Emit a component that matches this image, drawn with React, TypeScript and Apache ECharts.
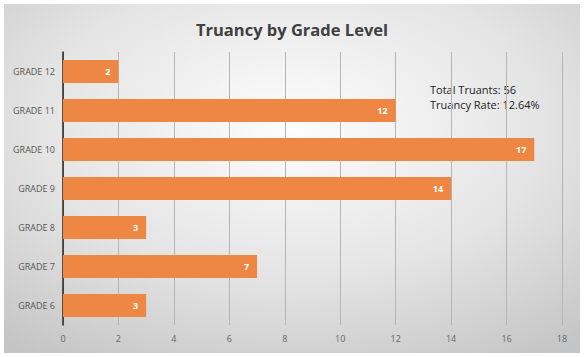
import React, { useEffect, useRef } from "react";
import * as echarts from "echarts";

const categories = ["GRADE 6", "GRADE 7", "GRADE 8", "GRADE 9", "GRADE 10", "GRADE 11", "GRADE 12"];
const truants = [3, 7, 3, 14, 17, 12, 2];
const xTicks = [0, 2, 4, 6, 8, 10, 12, 14, 16, 18];
const titleText = "Truancy by Grade Level";
const noteLines = ["Total Truants: 56", "Truancy Rate: 12.64%"];

export default function App() {
  const ref = useRef<HTMLDivElement>(null);
  useEffect(() => {
    const chart = echarts.init(ref.current!, null, { renderer: "svg" });
    chart.setOption({
      animation: false,
      textStyle: { fontFamily: "Open Sans, DejaVu Sans, sans-serif" },
      graphic: [
        {
          type: "rect",
          z: -10,
          silent: true,
          shape: { x: 4, y: 4, width: 576, height: 349 },
          style: {
            fill: {
              type: "radial",
              x: 0.5,
              y: 0.35,
              r: 0.8,
              colorStops: [
                { offset: 0, color: "#fdfdfd" },
                { offset: 0.55, color: "#e4e4e4" },
                { offset: 1, color: "#c4c4c4" },
              ],
            },
          },
        },
        {
          type: "text",
          x: 430,
          y: 82,
          style: {
            text: noteLines.join("\n"),
            fontSize: 11,
            lineHeight: 15,
            fill: "#222222",
            fontFamily: "Open Sans, sans-serif",
          },
        },
      ],
      title: {
        text: titleText,
        left: "center",
        top: 16,
        textStyle: { fontSize: 16.5, fontWeight: "bold", color: "#404040", fontFamily: "Open Sans, sans-serif" },
      },
      grid: { left: 63, right: 22, top: 52, bottom: 32, containLabel: false },
      xAxis: {
        type: "value",
        min: xTicks[0],
        max: xTicks[xTicks.length - 1],
        interval: 2,
        axisLine: { show: false },
        axisTick: { show: false },
        axisLabel: { color: "#666666", fontSize: 9, margin: 9 },
        splitLine: { show: true, lineStyle: { color: "#b5b5b5", width: 1 } },
      },
      yAxis: {
        type: "category",
        data: categories,
        axisLine: { show: true, lineStyle: { color: "#222222", width: 1.5 } },
        axisTick: { show: false },
        axisLabel: { color: "#555555", fontSize: 9, margin: 8 },
      },
      series: [
        {
          type: "bar",
          data: truants,
          barWidth: "59%",
          itemStyle: { color: "#EE8644" },
          label: {
            show: true,
            position: "insideRight",
            color: "#ffffff",
            fontWeight: "bold",
            fontSize: 9,
            distance: 8,
          },
        },
      ],
    });
    return () => chart.dispose();
  }, []);
  return (
    <div
      ref={ref}
      style={{ position: "fixed", left: 0, top: 0, width: 584, height: 357, background: "#ffffff" }}
    />
  );
}
